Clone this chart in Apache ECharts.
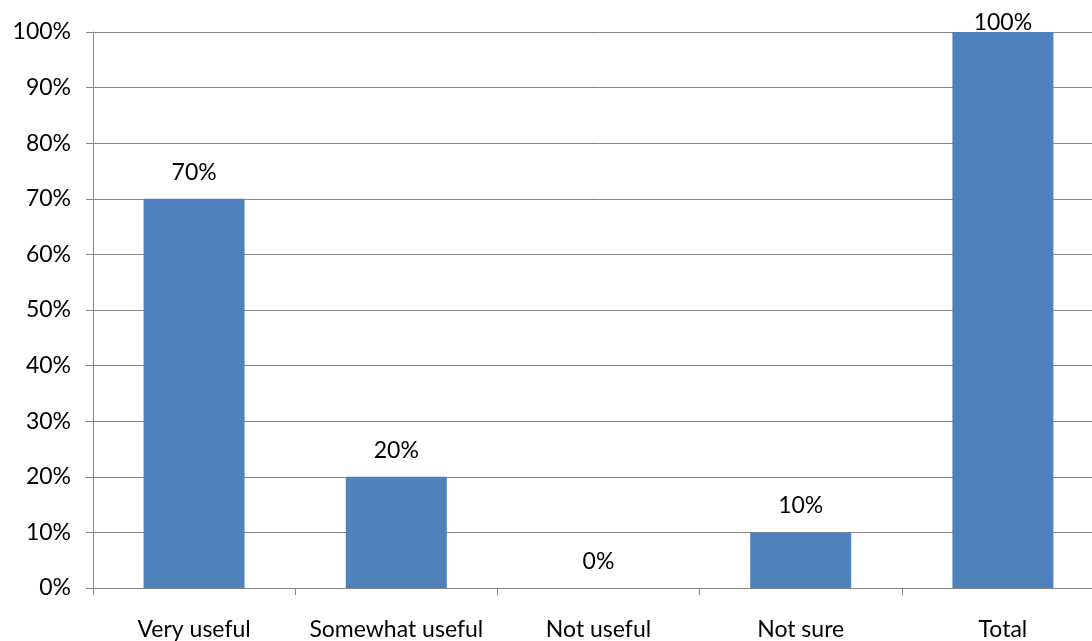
<!DOCTYPE html>
<html><head><meta charset="utf-8">
<script src="https://cdn.jsdelivr.net/npm/echarts@6/dist/echarts.min.js"></script>
<style>html,body{margin:0;padding:0;background:#fff;overflow:hidden;width:1092px;height:641px}#c{width:1104px;height:641px}</style>
</head><body><div id="c"></div>
<script>
var categories = ['Very useful', 'Somewhat useful', 'Not useful', 'Not sure', 'Total'];
var values = [70, 20, 0, 10, 100];
var yTicks = [0, 10, 20, 30, 40, 50, 60, 70, 80, 90, 100];

var FONT = 'Lato';
var chart = echarts.init(document.getElementById('c'), null, {renderer: 'canvas'});
chart.setOption({
  animation: false,
  textStyle: {fontFamily: FONT},
  grid: {left: 93, right: 0, top: 32, bottom: 53, containLabel: false},
  xAxis: {
    type: 'category',
    data: categories,
    boundaryGap: true,
    axisLine: {lineStyle: {color: '#868686', width: 1}},
    axisTick: {show: true, alignWithLabel: false, length: 7, lineStyle: {color: '#868686'}},
    axisLabel: {color: '#000', fontSize: 23, fontFamily: FONT, margin: 30, interval: 0}
  },
  yAxis: {
    type: 'value',
    min: 0, max: 100, interval: 10,
    axisLine: {show: true, lineStyle: {color: '#868686', width: 1}},
    axisTick: {show: true, length: 7, lineStyle: {color: '#868686'}},
    splitLine: {show: true, lineStyle: {color: '#868686', width: 1}},
    axisLabel: {color: '#000', fontSize: 23, fontFamily: FONT, margin: 22,
      formatter: function (v) { return yTicks.indexOf(v) >= 0 ? v + '%' : ''; }}
  },
  series: [{
    type: 'bar',
    barWidth: 101,
    itemStyle: {color: '#4F81BD'},
    label: {show: true, position: 'top', distance: 15, color: '#000', fontSize: 23, fontFamily: FONT,
      formatter: function (p) { return p.value + '%'; }},
    data: values.map(function (v, i) {
      return i === values.length - 1 ? {value: v, label: {distance: -2}} : v;
    })
  }]
});
</script></body></html>
